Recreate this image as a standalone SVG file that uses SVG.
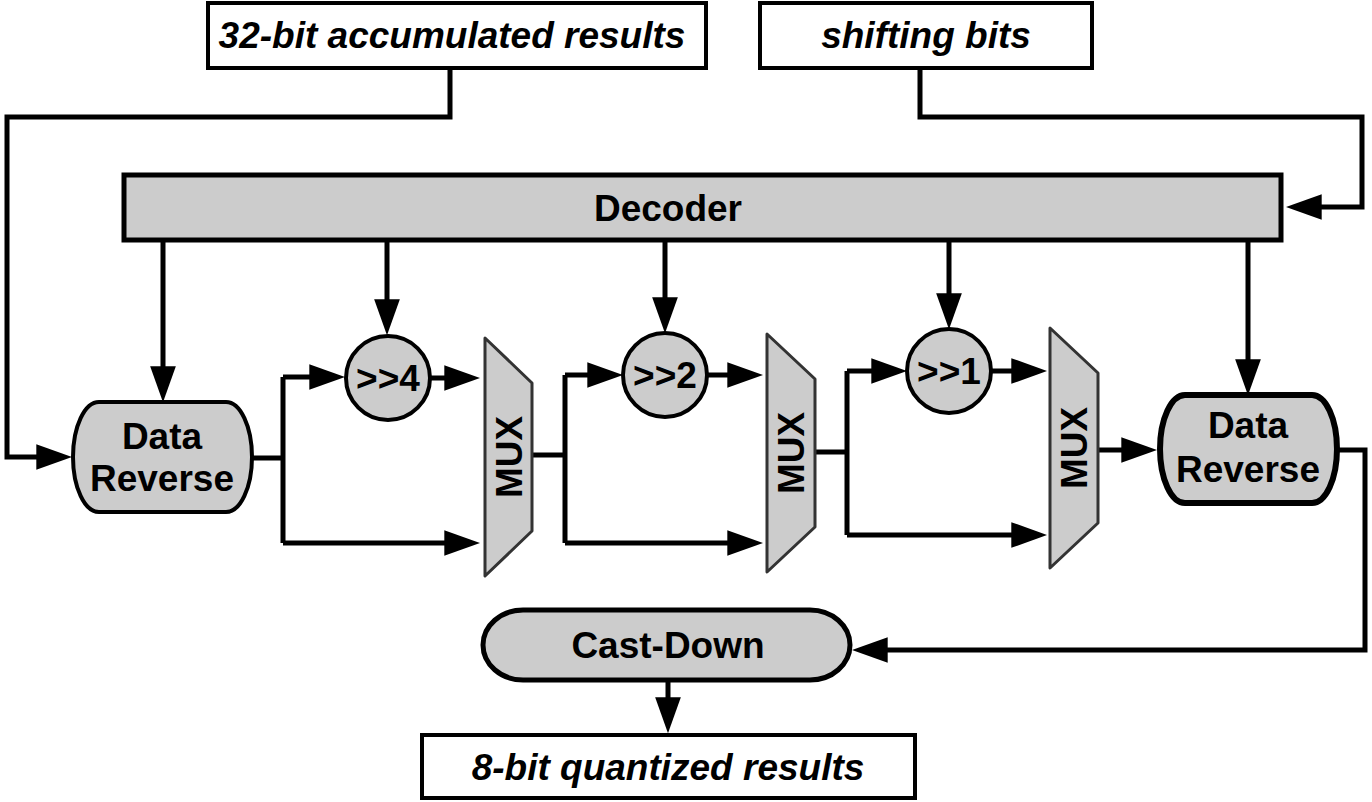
<svg xmlns="http://www.w3.org/2000/svg" width="1372" height="802" viewBox="0 0 1372 802">
<defs>
<style>
.box{fill:#fff;stroke:#000;stroke-width:4}
.gray{fill:#cccccc;stroke:#000;stroke-width:5}
.circ{fill:#cccccc;stroke:#000;stroke-width:4}
.mux{fill:#cccccc;stroke:#333;stroke-width:3;stroke-linejoin:round}
.it{font-family:"Liberation Sans",Arial,sans-serif;font-weight:bold;font-style:italic;font-size:37px;text-anchor:middle;fill:#000}
.bd{font-family:"Liberation Sans",Arial,sans-serif;font-weight:bold;font-size:37px;text-anchor:middle;fill:#000}
.ln{fill:none;stroke:#000;stroke-width:5;stroke-linejoin:miter}
.ar{marker-end:url(#ah)}
</style>
<marker id="ah" markerUnits="userSpaceOnUse" markerWidth="36" markerHeight="26" viewBox="0 0 35 25" refX="25" refY="12.5" orient="auto">
<path d="M0,0 L35,12.5 L0,25 Z" fill="#000"/>
</marker>
</defs>
<rect width="1372" height="802" fill="#fff"/>

<g id="connectors">
<path class="ln ar" d="M450,70 V117 H7 V457 H62"/>
<path class="ln ar" d="M920,68 V117 H1362 V207 H1296"/>
<path class="ln ar" d="M163,242 V392"/>
<path class="ln ar" d="M387,242 V325"/>
<path class="ln ar" d="M665,242 V323"/>
<path class="ln ar" d="M949,242 V319"/>
<path class="ln ar" d="M1248,242 V385"/>
<path class="ln" d="M252,458 H283 M283,377 V543"/>
<path class="ln ar" d="M283,377 H335"/>
<path class="ln ar" d="M283,543 H470"/>
<path class="ln ar" d="M430,378 H470"/>
<path class="ln" d="M532,455 H565 M565,375 V543"/>
<path class="ln ar" d="M565,375 H613"/>
<path class="ln ar" d="M565,543 H753"/>
<path class="ln ar" d="M707,375 H753"/>
<path class="ln" d="M815,452 H847 M847,371 V535"/>
<path class="ln ar" d="M847,371 H897"/>
<path class="ln ar" d="M847,535 H1037"/>
<path class="ln ar" d="M991,371 H1037"/>
<path class="ln ar" d="M1098,450 H1147"/>
<path class="ln ar" d="M1337,450 H1365 V650 H862"/>
<path class="ln ar" d="M668,680 V723"/>
</g>

<g id="accum">
<rect class="box" x="208" y="3" width="498" height="65"/>
<text class="it" x="452" y="48">32-bit accumulated results</text>
</g>
<g id="shifting">
<rect class="box" x="760" y="3" width="332" height="65"/>
<text class="it" x="926" y="48">shifting bits</text>
</g>
<g id="decoder">
<rect class="gray" x="124" y="175" width="1157" height="65"/>
<text class="bd" x="668" y="221">Decoder</text>
</g>
<g id="reverse1">
<path class="gray" style="stroke-width:4" d="M99,402 H226 A26 55 0 0 1 226,512 H99 A26 55 0 0 1 99,402 Z"/>
<text class="bd" x="162" y="449">Data</text>
<text class="bd" x="162" y="491">Reverse</text>
</g>
<g id="shift4">
<circle class="circ" cx="388" cy="378" r="42"/>
<text class="bd" x="388" y="391">&gt;&gt;4</text>
</g>
<g id="mux1">
<polygon class="mux" points="485,338 532,383 532,531 485,576"/>
<text class="bd" transform="translate(509,457) rotate(-90)" y="13">MUX</text>
</g>
<g id="shift2">
<circle class="circ" cx="665" cy="375" r="42"/>
<text class="bd" x="665" y="388">&gt;&gt;2</text>
</g>
<g id="mux2">
<polygon class="mux" points="767,334 815,379 815,527 767,572"/>
<text class="bd" transform="translate(791,453) rotate(-90)" y="13">MUX</text>
</g>
<g id="shift1">
<circle class="circ" cx="949" cy="371" r="42"/>
<text class="bd" x="949" y="384">&gt;&gt;1</text>
</g>
<g id="mux3">
<polygon class="mux" points="1050,328 1098,373 1098,523 1050,568"/>
<text class="bd" transform="translate(1074,448) rotate(-90)" y="13">MUX</text>
</g>
<g id="reverse2">
<path class="gray" style="stroke-width:6" d="M1185,395 H1312 A25 54 0 0 1 1312,503 H1185 A25 54 0 0 1 1185,395 Z"/>
<text class="bd" x="1248" y="438">Data</text>
<text class="bd" x="1248" y="482">Reverse</text>
</g>
<g id="castdown">
<rect class="gray" x="483" y="610" width="367" height="70" rx="40" ry="35"/>
<text class="bd" x="668" y="658">Cast-Down</text>
</g>
<g id="quantized">
<rect class="box" x="422" y="735" width="493" height="63"/>
<text class="it" x="668" y="780">8-bit quantized results</text>
</g>
</svg>
